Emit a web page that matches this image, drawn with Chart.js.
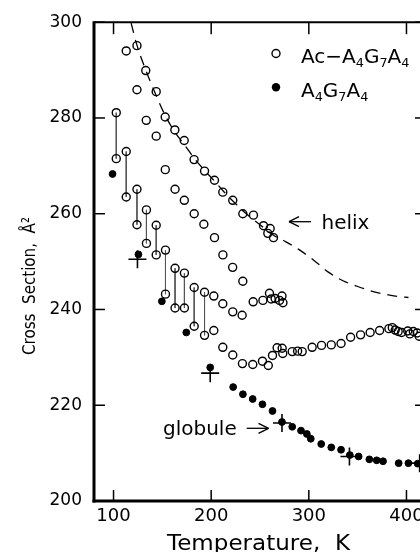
<!DOCTYPE html>
<html>
<head>
<meta charset="utf-8">
<script src="https://cdn.jsdelivr.net/npm/chart.js@4.4.1/dist/chart.umd.min.js"></script>
<style>
  html, body { margin: 0; padding: 0; background: #fff; overflow: hidden; }
  #wrap { width: 420px; height: 552px; overflow: hidden; }
  canvas { display: block; }
</style>
</head>
<body>
<div id="wrap"><canvas id="chart" width="440" height="552" style="width:440px;height:552px"></canvas></div>
<script>
// axis ticks
var xTicks = [100, 200, 300, 400];
var yTicks = [200, 220, 240, 260, 280, 300];

// Ac-A4G7A4, helix branch (open circles on the dashed curve)
var helixTemps  = [124, 133, 143.7, 152.9, 162.8, 172.4, 182.5, 193.2, 203.4, 211.9, 222.1, 232.4, 243.3, 253.6, 258, 260.4, 263.8];
var helixValues = [295.1, 289.9, 285.5, 280.2, 277.5, 275.3, 271.3, 268.9, 267.0, 264.5, 262.8, 260.0, 259.7, 257.5, 255.9, 256.9, 255.0];

// Ac-A4G7A4, middle branch
var middleTemps  = [113, 124, 133.5, 143.7, 153, 163, 172.5, 182.6, 192.5, 203.4, 212, 222, 232.4, 243, 253, 259.7, 261.5, 265.5, 270, 272.5, 273.5];
var middleValues = [294.0, 285.9, 279.5, 276.2, 269.2, 265.1, 262.8, 260.0, 257.8, 255.0, 251.4, 248.8, 245.9, 241.6, 241.9, 243.4, 242.2, 242.3, 241.9, 242.8, 241.4];

// Ac-A4G7A4, paired peaks joined by thin vertical lines
var pairTemps = [102.8, 113, 124, 133.7, 143.7, 153.2, 163, 172.6, 182.6, 193.2];
var pairUpper = [281.1, 273.0, 265.1, 260.8, 257.6, 252.4, 248.6, 247.6, 244.6, 243.6];
var pairLower = [271.5, 263.5, 257.7, 253.8, 251.4, 243.2, 240.3, 240.3, 236.5, 234.6];

// Ac-A4G7A4, continuation of upper peak
var upperTailTemps  = [202.7, 211.9, 222.1, 231.7];
var upperTailValues = [242.8, 241.2, 239.5, 238.8];

// Ac-A4G7A4, continuation of lower peak
var lowerTailTemps  = [202.7, 211.9, 222.1, 232, 242.6, 252.5, 258.5, 262.8, 267.5, 272.7, 273.3, 283, 288.5, 293.2, 303.4, 313, 323, 333, 342.8, 353, 362.8, 372.5, 382, 385.5, 388.5, 391.5, 395, 401.3, 403.5, 407, 411, 413];
var lowerTailValues = [235.6, 232.1, 230.5, 228.7, 228.5, 229.2, 228.3, 230.4, 232.0, 231.9, 230.8, 231.2, 231.3, 231.2, 232.1, 232.5, 232.6, 232.9, 234.2, 234.7, 235.2, 235.6, 236.0, 236.2, 235.7, 235.4, 235.2, 235.5, 234.9, 235.4, 235.1, 234.4];

// A4G7A4 (filled circles)
var filledTemps  = [99, 125.5, 149.5, 174.5, 199, 222.5, 232.5, 242.5, 252.5, 262.8, 272.5, 283, 292, 298, 302, 312.7, 323, 333, 342, 351, 362, 369.5, 376, 392, 402, 411.5];
var filledValues = [268.3, 251.5, 241.7, 235.2, 227.9, 223.8, 222.3, 221.3, 220.2, 218.8, 216.5, 215.5, 214.7, 214.0, 213.0, 211.9, 211.2, 210.7, 209.6, 209.3, 208.7, 208.5, 208.3, 207.9, 207.9, 207.8];

// crosses
var crossTemps  = [124.5, 199, 272.5, 341.6, 413.5];
var crossValues = [250.5, 226.7, 216.3, 209.3, 207.9];

// dashed helix curve
var helixLineTemps  = [118, 124, 133, 143, 153, 163, 173, 183, 193, 203, 213, 223, 233, 243, 253, 263, 275, 290, 305, 320, 335, 350, 365, 380, 392, 402];
var helixLineValues = [299.8, 295.2, 290.0, 285.0, 280.5, 277.0, 274.3, 271.5, 269.1, 266.9, 264.6, 262.5, 260.5, 258.8, 257.2, 255.6, 254.3, 252.5, 250.3, 247.8, 246.0, 244.8, 243.8, 243.1, 242.7, 242.5];

var FONT = '"DejaVu Sans", sans-serif';

function toPoints(xs, ys) {
    return xs.map(function(x, i) { return { x: x, y: ys[i] }; });
}

// vertical segments, broken by a null point between pairs
function pairSegments() {
    var pts = [];
    for (var i = 0; i < pairTemps.length; i++) {
        pts.push({ x: pairTemps[i], y: pairUpper[i] });
        pts.push({ x: pairTemps[i], y: pairLower[i] });
        pts.push({ x: pairTemps[i], y: null });
    }
    return pts;
}

var openPoints = [].concat(
    toPoints(helixTemps, helixValues),
    toPoints(middleTemps, middleValues),
    toPoints(pairTemps, pairUpper),
    toPoints(pairTemps, pairLower),
    toPoints(upperTailTemps, upperTailValues),
    toPoints(lowerTailTemps, lowerTailValues)
);

function line(ctx, x1, y1, x2, y2) {
    ctx.beginPath();
    ctx.moveTo(x1, y1);
    ctx.lineTo(x2, y2);
    ctx.stroke();
}

function arrow(ctx, xFrom, xTo, y) {
    var dir = xTo > xFrom ? 1 : -1;
    line(ctx, xFrom, y, xTo, y);
    line(ctx, xTo, y, xTo - dir * 10, y - 5);
    line(ctx, xTo, y, xTo - dir * 10, y + 5);
}

// text with subscripts: parts = [[text, isSub], ...]
function drawSubText(ctx, parts, x, y, size) {
    var cx = x;
    parts.forEach(function(p) {
        var s = p[1] ? size * 0.64 : size;
        ctx.font = s + 'px ' + FONT;
        ctx.fillText(p[0], cx, y + (p[1] ? size * 0.22 : 0));
        cx += ctx.measureText(p[0]).width;
    });
}

// text squeezed/stretched to a given length along its direction
function drawFitted(ctx, text, cx, cy, size, length, angle) {
    ctx.save();
    ctx.translate(cx, cy);
    ctx.rotate(angle);
    ctx.font = size + 'px ' + FONT;
    var w = ctx.measureText(text).width;
    ctx.scale(length / w, 1);
    ctx.textAlign = 'center';
    ctx.textBaseline = 'alphabetic';
    ctx.fillText(text, 0, 0);
    ctx.restore();
}

var framePlugin = {
    id: 'frame',
    afterDatasetsDraw: function(chart) {
        var ctx = chart.ctx, a = chart.chartArea;
        var xs = chart.scales.x, ys = chart.scales.y;
        ctx.save();
        ctx.strokeStyle = '#000';
        ctx.lineWidth = 3;
        line(ctx, a.left, a.top - 1, a.left, a.bottom + 1.5);
        line(ctx, a.left - 1.5, a.bottom, a.right, a.bottom);
        ctx.lineWidth = 2;
        line(ctx, a.left, a.top, a.right, a.top);
        line(ctx, a.right, a.top, a.right, a.bottom);
        ctx.lineWidth = 1.5;
        xTicks.forEach(function(v) {
            var px = xs.getPixelForValue(v);
            line(ctx, px, a.bottom, px, a.bottom - 11);
            line(ctx, px, a.top, px, a.top + 12);
        });
        yTicks.forEach(function(v) {
            var py = ys.getPixelForValue(v);
            line(ctx, a.left, py, a.left + 11, py);
            line(ctx, a.right, py, a.right - 11, py);
        });
        ctx.restore();
    },
    afterDraw: function(chart) {
        var ctx = chart.ctx;
        ctx.save();
        ctx.fillStyle = '#000';
        ctx.strokeStyle = '#000';
        ctx.textBaseline = 'alphabetic';
        ctx.textAlign = 'left';

        // legend
        ctx.lineWidth = 1.4;
        ctx.beginPath();
        ctx.arc(276, 53.5, 4, 0, Math.PI * 2);
        ctx.stroke();
        ctx.beginPath();
        ctx.arc(276, 87.3, 4.2, 0, Math.PI * 2);
        ctx.fill();
        drawSubText(ctx, [['Ac\u2212A', 0], ['4', 1], ['G', 0], ['7', 1], ['A', 0], ['4', 1]], 301, 63, 20);
        drawSubText(ctx, [['A', 0], ['4', 1], ['G', 0], ['7', 1], ['A', 0], ['4', 1]], 301, 96.5, 20);

        // annotations
        ctx.lineWidth = 1.3;
        ctx.font = '20px ' + FONT;
        arrow(ctx, 311, 289, 221.7);
        ctx.fillText('helix', 321.5, 229);
        ctx.fillText('globule', 163, 435);
        arrow(ctx, 246.7, 268.5, 428.3);

        // axis titles
        drawFitted(ctx, 'Temperature,  K', 258.5, 550, 21, 183, 0);
        drawFitted(ctx, 'Cross  Section,  \u00c5\u00b2', 35, 286, 18, 138, -Math.PI / 2);
        ctx.restore();
    }
};

var ctx = document.getElementById('chart').getContext('2d');
var crossSectionChart = new Chart(ctx, {
    type: 'scatter',
    data: {
        datasets: [
            {
                label: 'Ac-A4G7A4',
                data: openPoints,
                pointStyle: 'circle',
                pointRadius: 4,
                pointBorderWidth: 1.4,
                pointBorderColor: '#000',
                pointBackgroundColor: 'rgba(0,0,0,0)',
                order: 1
            },
            {
                label: 'A4G7A4',
                data: toPoints(filledTemps, filledValues),
                pointStyle: 'circle',
                pointRadius: 3.4,
                pointBorderWidth: 1,
                pointBorderColor: '#000',
                pointBackgroundColor: '#000',
                order: 2
            },
            {
                label: 'cross',
                data: toPoints(crossTemps, crossValues),
                pointStyle: 'cross',
                pointRadius: 9,
                pointBorderWidth: 1.6,
                pointBorderColor: '#000',
                order: 3
            },
            {
                label: 'pairs',
                data: pairSegments(),
                showLine: true,
                spanGaps: false,
                pointRadius: 0,
                borderWidth: 1,
                borderColor: '#555',
                order: 4
            },
            {
                label: 'helix',
                data: toPoints(helixLineTemps, helixLineValues),
                showLine: true,
                pointRadius: 0,
                borderWidth: 1.3,
                borderColor: '#000',
                borderDash: [10, 7],
                cubicInterpolationMode: 'monotone',
                order: 5
            }
        ]
    },
    options: {
        responsive: false,
        animation: false,
        events: [],
        layout: { padding: { left: 0, top: 19, right: 14, bottom: 0 } },
        plugins: {
            legend: { display: false },
            tooltip: { enabled: false }
        },
        scales: {
            x: {
                type: 'linear',
                min: 80,
                max: 420,
                grid: { display: false, drawTicks: false },
                border: { display: false },
                afterBuildTicks: function(axis) { axis.ticks = xTicks.map(function(v) { return { value: v }; }); },
                afterFit: function(axis) { axis.height = 51; },
                ticks: { color: '#000', padding: 5, maxRotation: 0, font: { family: FONT, size: 18 } }
            },
            y: {
                type: 'linear',
                min: 200,
                max: 300,
                grid: { display: false, drawTicks: false },
                border: { display: false },
                afterBuildTicks: function(axis) { axis.ticks = yTicks.map(function(v) { return { value: v }; }); },
                afterFit: function(axis) { axis.width = 94; },
                ticks: { color: '#000', padding: 12, font: { family: FONT, size: 17 } }
            }
        }
    },
    plugins: [framePlugin]
});
</script>
</body>
</html>
